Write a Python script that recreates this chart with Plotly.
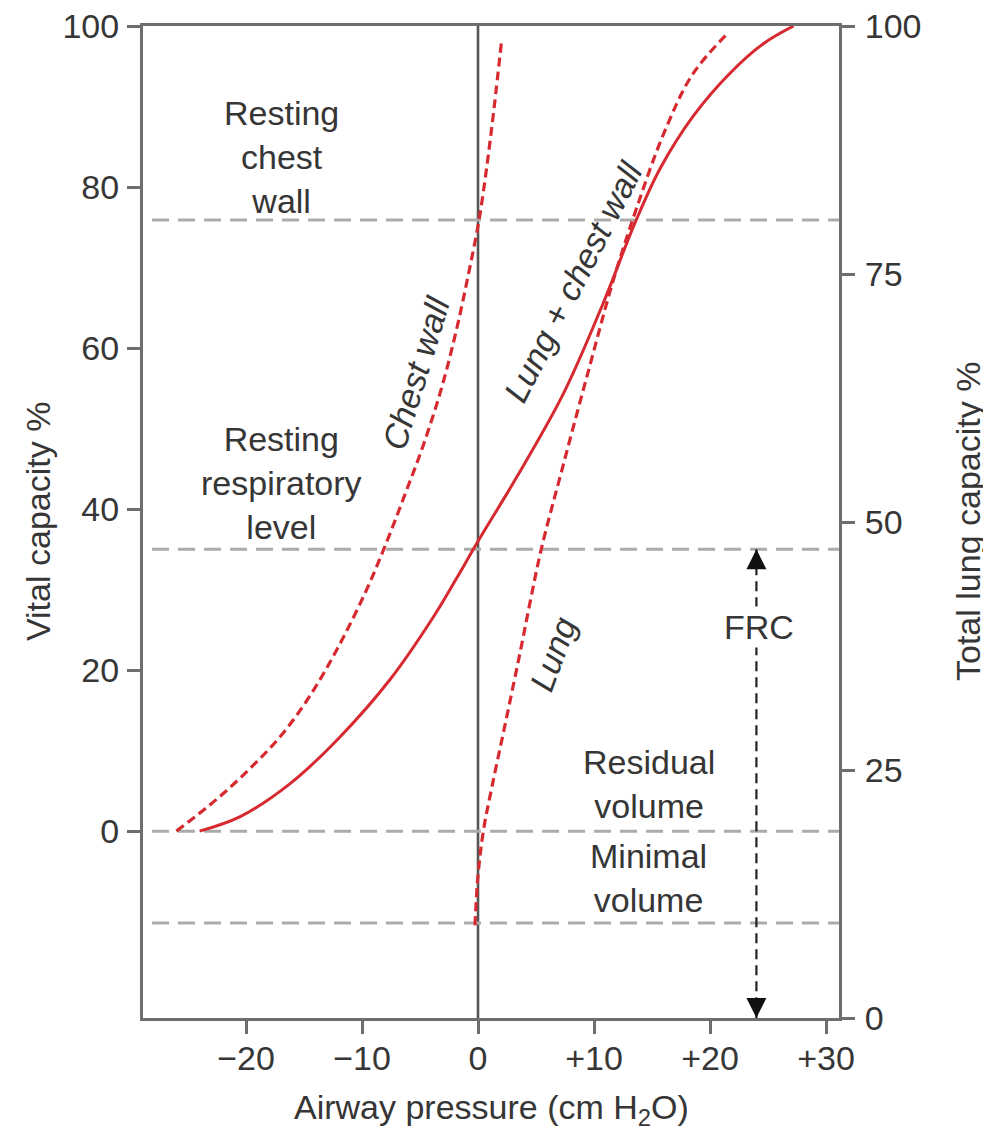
import plotly.graph_objects as go

# ---- data (x: airway pressure cm H2O, y: vital capacity %) ----
chest_wall_p = [-26.0, -22.5, -19.5, -16.9, -14.4, -12.0, -9.6, -7.85, -6.25, -4.7, -3.15, -1.9, -0.85, 0.1, 0.8, 1.4, 2.02]
chest_wall_vc = [0, 4, 8, 12, 17, 23, 30, 36, 42, 48, 55, 62, 69, 76, 83, 90, 98]

total_p = [-24.0, -20.5, -16.2, -11.9, -7.6, -3.85, -1.85, 0.0, 3.35, 7.35, 10.8, 13.55, 15.7, 18.55, 21.7, 24.6, 27.2]
total_vc = [0, 1.8, 5.9, 11.7, 18.8, 26.6, 31.4, 36.0, 44.0, 54.3, 65.6, 75.6, 82.3, 88.8, 94.1, 97.8, 100]

lung_p = [-0.26, 0.0, 0.46, 1.2, 2.3, 3.6, 4.5, 5.45, 7.35, 9.6, 11.7, 13.7, 16.0, 18.5, 21.6]
lung_vc = [-11.7, -5.5, 0, 5.5, 13, 22, 28.5, 35, 45.5, 57.6, 68.6, 77.5, 86.6, 94.0, 99.2]

# horizontal reference levels (vital capacity %)
ref_levels = [75.9, 35.0, 0.0, -11.4]
frc_pressure = 24.0
frc_level = 35.0

x_ticks = [-20, -10, 0, 10, 20, 30]
x_ticktext = ["\u221220", "\u221210", "0", "+10", "+20", "+30"]
vc_ticks = [0, 20, 40, 60, 80, 100]
tlc_ticks = [0, 25, 50, 75, 100]

X_RANGE = [-28.88, 31.12]
VC_RANGE = [-23.21, 100]
TLC_RANGE = [0, 100]

RED = "#d62a30"
TXT = "#363636"
AX = "#6e6e6e"
FONT = "Liberation Sans, Arial, Helvetica, sans-serif"
FS = 34

fig = go.Figure()

fig.add_trace(go.Scatter(x=chest_wall_p, y=chest_wall_vc, mode="lines",
                         line=dict(color=RED, width=3.2, dash="9px,5px", shape="spline", smoothing=1.0),
                         showlegend=False, hoverinfo="skip"))
fig.add_trace(go.Scatter(x=total_p, y=total_vc, mode="lines",
                         line=dict(color=RED, width=3, shape="spline", smoothing=1.0),
                         showlegend=False, hoverinfo="skip"))
fig.add_trace(go.Scatter(x=lung_p, y=lung_vc, mode="lines",
                         line=dict(color=RED, width=3.2, dash="9px,5px", shape="spline", smoothing=1.0),
                         showlegend=False, hoverinfo="skip"))
# dummy trace so the right axis is drawn
fig.add_trace(go.Scatter(x=[None], y=[None], yaxis="y2", showlegend=False, hoverinfo="skip"))

# gray dashed reference levels
for lv in ref_levels:
    fig.add_shape(type="line", xref="x", yref="y", x0=-28.1, x1=X_RANGE[1], y0=lv, y1=lv,
                  line=dict(color="#ababab", width=3, dash="17px,9px"), layer="below")

# vertical zero-pressure line
fig.add_shape(type="line", xref="x", yref="paper", x0=0, x1=0, y0=0, y1=1,
              line=dict(color="#555555", width=2.6), layer="below")

# FRC dashed arrow
fig.add_shape(type="line", xref="x", yref="y", x0=frc_pressure, x1=frc_pressure,
              y0=frc_level, y1=VC_RANGE[0],
              line=dict(color="#222222", width=2.2, dash="10px,6px"))

ann = []
ann.append(dict(x=frc_pressure, y=frc_level, xref="x", yref="y", ax=0, ay=16,
                showarrow=True, arrowhead=2, arrowsize=2.0, arrowwidth=2, arrowcolor="#111111", text=" "))
ann.append(dict(x=frc_pressure, y=0, xref="x", yref="paper", ax=0, ay=-16,
                showarrow=True, arrowhead=2, arrowsize=2.0, arrowwidth=2, arrowcolor="#111111", text=" "))

def label(text, x, y, angle=0, bg=None):
    d = dict(x=x, y=y, xref="x", yref="y", text=text, showarrow=False, textangle=angle,
             font=dict(family=FONT, size=FS, color=TXT), align="center")
    if bg:
        d["bgcolor"] = bg
    return d

ann.append(label("Resting<br>chest<br>wall", -16.98, 83.7))
ann.append(label("Resting<br>respiratory<br>level", -16.98, 43.2))
ann.append(label("Residual<br>volume", 14.74, 5.9))
ann.append(label("Minimal<br>volume", 14.74, -5.8))
ann.append(label("FRC", 24.25, 25.3, bg="white"))
ann.append(label("<i>Chest wall</i>", -5.34, 56.9, angle=-73))
ann.append(label("<i>Lung + chest wall</i>", 8.19, 68.2, angle=-63))
ann.append(label("<i>Lung</i>", 6.47, 22.0, angle=-70))

# axis titles
title_font = dict(family=FONT, size=FS, color=TXT)
ann.append(dict(text="Vital capacity %", xref="paper", yref="paper", x=0, y=0.5,
                xanchor="center", yanchor="middle", xshift=-105, textangle=-90, showarrow=False,
                font=title_font))
ann.append(dict(text="Total lung capacity %", xref="paper", yref="paper", x=1, y=0.5,
                xanchor="center", yanchor="middle", xshift=129, textangle=-90, showarrow=False,
                font=title_font))
ann.append(dict(text="Airway pressure (cm H<sub>2</sub>O)", xref="paper", yref="paper", x=0.5, y=0,
                xanchor="center", yanchor="middle", yshift=-91, showarrow=False,
                font=title_font))

axis_common = dict(showline=True, linecolor=AX, linewidth=3, ticks="outside", ticklen=13,
                   tickwidth=2.5, tickcolor=AX, showgrid=False, zeroline=False, automargin=False,
                   ticklabeloverflow="allow",
                   tickfont=dict(family=FONT, size=FS, color=TXT))

fig.update_layout(
    width=983, height=1125,
    margin=dict(l=135, r=152, t=18, b=115, autoexpand=False),
    paper_bgcolor="white", plot_bgcolor="white",
    showlegend=False,
    annotations=ann,
    xaxis=dict(range=X_RANGE, tickvals=x_ticks, ticktext=x_ticktext, mirror=True,
               ticklabelstandoff=-5, **axis_common),
    yaxis=dict(range=VC_RANGE, tickvals=vc_ticks, mirror=True, ticklabelstandoff=1,
               **axis_common),
    yaxis2=dict(range=TLC_RANGE, tickvals=tlc_ticks, overlaying="y", side="right", anchor="x",
                ticklabelstandoff=3, **axis_common),
)

fig.write_html("out.html")
